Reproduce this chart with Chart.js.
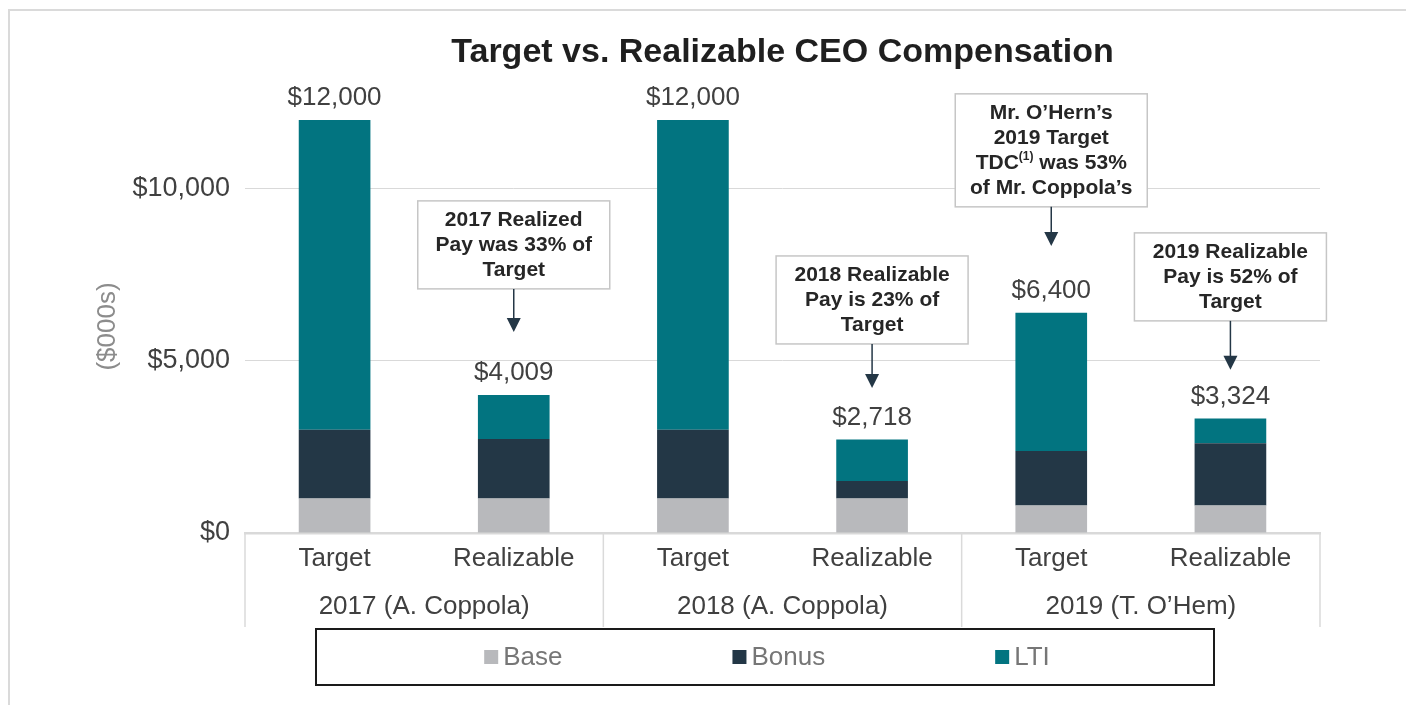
<!DOCTYPE html>
<html>
<head>
<meta charset="utf-8">
<title>Target vs. Realizable CEO Compensation</title>
<script src="https://cdn.jsdelivr.net/npm/chart.js@4.4.1/dist/chart.umd.min.js"></script>
<style>
  html, body { margin: 0; padding: 0; background: #fff; }
  #wrap { position: relative; width: 1406px; height: 705px; overflow: hidden; }
  canvas { position: absolute; left: 0; top: 0; }
</style>
</head>
<body>
<div id="wrap"><canvas id="compChart" width="1406" height="705"></canvas></div>
<script>
// chart data ($000s)
const categories = ['Target', 'Realizable', 'Target', 'Realizable', 'Target', 'Realizable'];
const groups = ['2017 (A. Coppola)', '2018 (A. Coppola)', '2019 (T. O\u2019Hem)'];
const baseValues = [1000, 1000, 1000, 1000, 800, 800];
const bonusValues = [2000, 1733, 2000, 512, 1584, 1808];
const ltiValues = [9000, 1276, 9000, 1206, 4016, 716];
const totals = [12000, 4009, 12000, 2718, 6400, 3324];
const yTicks = [0, 5000, 10000];

// callout boxes: category index + text lines (^...^ = superscript)
const noteCats = [1, 3, 4, 5];
const noteLines = [
    ['2017 Realized', 'Pay was 33% of', 'Target'],
    ['2018 Realizable', 'Pay is 23% of', 'Target'],
    ['Mr. O\u2019Hern\u2019s', '2019 Target', 'TDC^(1)^ was 53%', 'of Mr. Coppola\u2019s'],
    ['2019 Realizable', 'Pay is 52% of', 'Target']
];

const FONT = "'Liberation Sans', Arial, Helvetica, sans-serif";
Chart.defaults.font.family = FONT;

const fmt = v => '$' + Number(v).toLocaleString('en-US');

// box top / arrow tip, in y-axis units
const noteSpots = [
    { top: 9650, tip: 5840 },
    { top: 8050, tip: 4210 },
    { top: 12760, tip: 8340 },
    { top: 8720, tip: 4740 }
];

function drawRichLine(ctx, text, cx, cy) {
    const parts = text.split('^');
    const fonts = parts.map((p, i) => i % 2 ? 'bold 12px ' + FONT : 'bold 21px ' + FONT);
    let total = 0;
    const widths = parts.map((p, i) => { ctx.font = fonts[i]; const w = ctx.measureText(p).width; total += w; return w; });
    let px = cx - total / 2;
    ctx.textAlign = 'left';
    parts.forEach((p, i) => {
        ctx.font = fonts[i];
        ctx.fillText(p, px, i % 2 ? cy - 6 : cy);
        px += widths[i];
    });
}

const decorPlugin = {
    id: 'decor',
    beforeDraw(chart) {
        const ctx = chart.ctx;
        ctx.save();
        ctx.strokeStyle = '#dadada';
        ctx.lineWidth = 2;
        ctx.beginPath();
        ctx.moveTo(9, 705);
        ctx.lineTo(9, 10);
        ctx.lineTo(1406, 10);
        ctx.stroke();
        ctx.restore();
    },
    afterDraw(chart) {
        const { ctx, chartArea: area } = chart;
        const x = chart.scales.x, y = chart.scales.y;
        ctx.save();

        // title
        ctx.fillStyle = '#1f1f1f';
        ctx.font = 'bold 34px ' + FONT;
        ctx.textAlign = 'center';
        ctx.textBaseline = 'middle';
        ctx.fillText('Target vs. Realizable CEO Compensation', (area.left + area.right) / 2, 53);

        // group dividers under the axis
        const edges = [
            area.left,
            (x.getPixelForValue(1) + x.getPixelForValue(2)) / 2,
            (x.getPixelForValue(3) + x.getPixelForValue(4)) / 2,
            area.right
        ];
        ctx.strokeStyle = '#dadada';
        ctx.lineWidth = 1.5;
        edges.forEach(e => {
            ctx.beginPath();
            ctx.moveTo(e, area.bottom);
            ctx.lineTo(e, area.bottom + 94);
            ctx.stroke();
        });

        // totals above bars
        ctx.fillStyle = '#404040';
        ctx.font = '26px ' + FONT;
        ctx.textAlign = 'center';
        chart.getDatasetMeta(2).data.forEach((bar, i) => {
            ctx.fillText(fmt(totals[i]), bar.x, bar.y - 22);
        });

        // callouts
        noteLines.forEach((lines, k) => {
            const cx = x.getPixelForValue(noteCats[k]);
            const top = y.getPixelForValue(noteSpots[k].top);
            const tip = y.getPixelForValue(noteSpots[k].tip);
            const w = 192, h = lines.length * 25 + 13;
            ctx.fillStyle = '#fff';
            ctx.fillRect(cx - w / 2, top, w, h);
            ctx.strokeStyle = '#c6c6c6';
            ctx.lineWidth = 1.5;
            ctx.strokeRect(cx - w / 2, top, w, h);
            ctx.fillStyle = '#262626';
            lines.forEach((ln, j) => drawRichLine(ctx, ln, cx, top + 19 + j * 25));
            // arrow
            ctx.strokeStyle = '#243746';
            ctx.fillStyle = '#243746';
            ctx.lineWidth = 1.5;
            ctx.beginPath();
            ctx.moveTo(cx, top + h);
            ctx.lineTo(cx, tip - 12);
            ctx.stroke();
            ctx.beginPath();
            ctx.moveTo(cx - 7, tip - 14);
            ctx.lineTo(cx + 7, tip - 14);
            ctx.lineTo(cx, tip);
            ctx.closePath();
            ctx.fill();
        });

        // legend with frame
        const bx0 = area.left + 71, bx1 = area.right - 106;
        const by0 = area.bottom + 96, by1 = area.bottom + 152;
        ctx.strokeStyle = '#1a1a1a';
        ctx.lineWidth = 2;
        ctx.strokeRect(bx0, by0, bx1 - bx0, by1 - by0);
        ctx.font = '26px ' + FONT;
        const items = chart.data.datasets.map(d => ({ label: d.label, color: d.backgroundColor }));
        const gap = 170;
        const widths = items.map(it => 19 + ctx.measureText(it.label).width);
        const total = widths.reduce((a, b) => a + b, 0) + gap * (items.length - 1);
        let lx = (bx0 + bx1) / 2 + 2 - total / 2;
        const ly = (by0 + by1) / 2;
        ctx.textAlign = 'left';
        items.forEach((it, i) => {
            ctx.fillStyle = it.color;
            ctx.fillRect(lx, ly - 7, 14, 14);
            ctx.fillStyle = '#767676';
            ctx.fillText(it.label, lx + 19, ly + 1);
            lx += widths[i] + gap;
        });
        ctx.restore();
    }
};

const ctxComp = document.getElementById('compChart').getContext('2d');
const compChart = new Chart(ctxComp, {
    type: 'bar',
    data: {
        labels: categories,
        datasets: [
            { label: 'Base', data: baseValues, backgroundColor: '#b8b9bc' },
            { label: 'Bonus', data: bonusValues, backgroundColor: '#233746' },
            { label: 'LTI', data: ltiValues, backgroundColor: '#027480' }
        ]
    },
    options: {
        responsive: false,
        animation: false,
        devicePixelRatio: 1,
        categoryPercentage: 1,
        barPercentage: 0.4,
        layout: { padding: { top: 120, left: 88, right: 86, bottom: 76 } },
        plugins: {
            legend: { display: false },
            title: { display: false },
            tooltip: { enabled: false }
        },
        scales: {
            x: {
                stacked: true,
                weight: 0,
                grid: { display: false, drawTicks: false },
                border: { display: true, color: '#d9d9d9', width: 2.5 },
                ticks: { padding: 10, color: '#404040', font: { size: 26 }, maxRotation: 0 },
                afterFit: s => { s.height = 48; }
            },
            x2: {
                type: 'category',
                labels: groups,
                position: 'bottom',
                offset: true,
                weight: 1,
                grid: { display: false, drawTicks: false },
                border: { display: false },
                ticks: { padding: 10, color: '#404040', font: { size: 26 }, maxRotation: 0 },
                afterFit: s => { s.height = 48; }
            },
            y: {
                stacked: true,
                min: 0,
                max: 12000,
                afterBuildTicks: s => { s.ticks = yTicks.map(v => ({ value: v })); },
                afterFit: s => { s.width = 157; },
                border: { display: false },
                grid: { color: '#d9d9d9', lineWidth: 1, drawTicks: false },
                ticks: { padding: 15, color: '#404040', font: { size: 27 }, callback: v => fmt(v) },
                title: { display: true, text: '($000s)', color: '#8c8c8c', font: { size: 26 }, padding: { top: 4, bottom: 4 } }
            }
        }
    },
    plugins: [decorPlugin]
});
</script>
</body>
</html>
